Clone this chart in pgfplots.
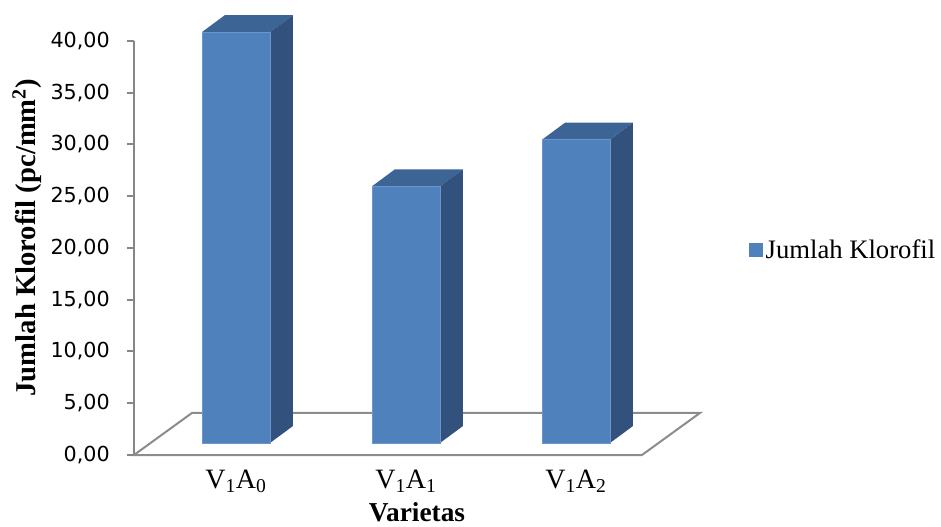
\documentclass[border=0pt]{standalone}
\usepackage{pgfplots}
\pgfplotsset{compat=1.18}
\usepackage{pgfplotstable}
\usepackage{fontspec}
\setmainfont{Liberation Serif}
\newfontfamily\dejavu{DejaVu Sans}
\definecolor{frontc}{HTML}{4F81BD}
\definecolor{frontedge}{HTML}{6A96CC}
\definecolor{topc}{HTML}{3C6494}
\definecolor{sidec}{HTML}{32527D}
\definecolor{floorc}{HTML}{8C8C8C}
\definecolor{axisgray}{HTML}{868686}

\pgfplotstableread{
pos val
0 39.7
1 24.8
2 29.3
}\datatable

\begin{document}
\begin{tikzpicture}
\begin{axis}[
  x=127.5pt, y=7.7625pt,
  xmin=-0.6, xmax=2.729, ymin=0, ymax=40,
  clip=false,
  axis y line*=left, axis x line*=bottom,
  x axis line style={draw=none},
  y axis line style={draw=axisgray, line width=1.5pt},
  ytick={0,5,...,40},
  ytick style={draw=axisgray, line width=1.5pt},
  tick align=outside, major tick length=5.25pt,
  xtick={0,1,2},
  xtick style={draw=none},
  xticklabels={V\textsubscript{1}A\textsubscript{0},V\textsubscript{1}A\textsubscript{1},V\textsubscript{1}A\textsubscript{2}},
  xticklabel style={font=\fontsize{21}{24}\selectfont, anchor=base, inner sep=0pt, yshift=-19.5pt},
  yticklabel style={font=\dejavu\fontsize{15.5}{18}\selectfont, anchor=east, inner sep=0pt, xshift=-12.75pt},
  /pgf/number format/fixed,
  /pgf/number format/fixed zerofill,
  /pgf/number format/precision=2,
  /pgf/number format/use comma,
  /pgf/number format/assume math mode=true,
  xlabel={\textbf{Varietas}},
  xlabel style={font=\fontsize{20.5}{23}\selectfont, at={(axis description cs:0.5,0)}, anchor=base, inner sep=0pt, yshift=-49.5pt},
  ylabel={\textbf{Jumlah Klorofil (pc/mm\textsuperscript{2})}},
  ylabel style={font=\fontsize{21.5}{24}\selectfont, at={(axis description cs:-0.189,0.525)}, anchor=center, inner sep=0pt},
  legend style={at={(axis description cs:1.087,0.495)}, anchor=west, draw=none, fill=none, inner sep=0pt, font=\fontsize{20}{23}\selectfont},
]
\addplot[fill=white, draw=floorc, line width=1.5pt, forget plot] coordinates {(-0.6,0) (2.388,0) (2.729,4.06) (-0.259,4.06)} -- cycle;
\pgfplotsinvokeforeach{0,1,2}{
  \pgfplotstablegetelem{#1}{val}\of\datatable
  \pgfmathsetmacro\xl{#1-0.2}
  \pgfmathsetmacro\xr{#1+0.2}
  \pgfmathsetmacro\yb{1.16}
  \pgfmathsetmacro\yt{1.16+\pgfplotsretval}
  \pgfmathsetmacro\xlb{\xl+0.135}
  \pgfmathsetmacro\xrb{\xr+0.135}
  \pgfmathsetmacro\ybb{\yb+1.64}
  \pgfmathsetmacro\ytb{\yt+1.64}
  \edef\tmp{%
    \noexpand\addplot[fill=topc, draw=none, forget plot] coordinates {(\xl,\yt) (\xr,\yt) (\xrb,\ytb) (\xlb,\ytb)} -- cycle;
    \noexpand\addplot[fill=sidec, draw=none, forget plot] coordinates {(\xr,\yb) (\xrb,\ybb) (\xrb,\ytb) (\xr,\yt)} -- cycle;
    \noexpand\addplot[fill=frontc, draw=frontedge, line width=0.5pt, forget plot] coordinates {(\xl,\yb) (\xr,\yb) (\xr,\yt) (\xl,\yt)} -- cycle;
  }\tmp
}
\addlegendimage{legend image code/.code={\fill[frontc] (0pt,-4.875pt) rectangle (9.75pt,4.875pt);}}
\addlegendentry{Jumlah Klorofil}
\path (axis cs:-1.388,43.96) rectangle (axis cs:4.147,-6.86);
\end{axis}
\end{tikzpicture}
\end{document}
